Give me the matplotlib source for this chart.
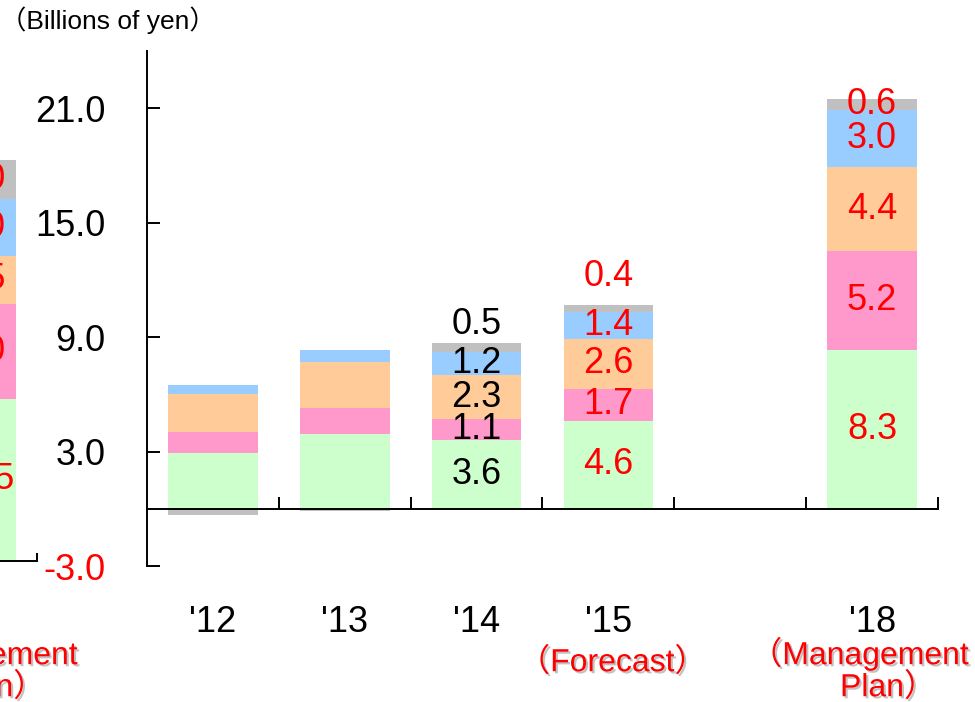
import numpy as np
import matplotlib
matplotlib.use("Agg")
import matplotlib.pyplot as plt
import matplotlib.patheffects as pe
from matplotlib import transforms

plt.rcParams["font.family"] = ["Liberation Sans", "Noto Sans CJK JP"]

# ---------------------------------------------------------------------------
# Data (billions of yen), stacked from the bottom up
# ---------------------------------------------------------------------------
years = ["'12", "'13", "'14", "'15", "'18"]
green = [2.9, 3.9, 3.6, 4.6, 8.3]
pink = [1.1, 1.4, 1.1, 1.7, 5.2]
orange = [2.0, 2.4, 2.3, 2.6, 4.4]
blue = [0.5, 0.6, 1.2, 1.4, 3.0]
gray = [-0.3, -0.1, 0.5, 0.4, 0.6]
show_labels = [False, False, True, True, True]
label_colors = ["black", "black", "black", "red", "red"]

# neighbouring (cropped) chart on the left edge
left_values = [8.5, 5.0, 2.5, 3.0, 2.0]

yticks = [-3, 3, 9, 15, 21]

colors = ["#ccffcc", "#ff99cc", "#ffcc99", "#99ccff", "#c0c0c0"]
FS = 26
NOTE_FS = 23
PX = 131.5  # pixels per category slot
shadow = [pe.withSimplePatchShadow(offset=(1.5, -1.5), shadow_rgbFace="#999999", alpha=0.6)]


def plan_note(axis, xc):
    """Two-line red '(Management Plan)' note under a category."""
    tr = transforms.blended_transform_factory(axis.transData, fig.transFigure)
    axis.text(xc + 97 / PX, 1 - 654 / 702, "（Management", transform=tr, ha="right",
              va="center", fontsize=NOTE_FS, color="red", path_effects=shadow)
    axis.text(xc - 32 / PX, 1 - 688 / 702, "Plan）", transform=tr, ha="left",
              va="center", fontsize=NOTE_FS, color="red", path_effects=shadow)


fig = plt.figure(figsize=(9.75, 7.02), dpi=100)

# ---------------------------------------------------------------------------
# Main chart
# ---------------------------------------------------------------------------
ax = fig.add_axes([147 / 975, 136 / 702, 791 / 975, 515 / 702])
x = np.arange(len(years), dtype=float)
x[-1] += 1  # gap for '16 / '17
width = 0.68

series = np.array([green, pink, orange, blue, gray])
pos_base = np.zeros(len(years))
neg_base = np.zeros(len(years))
for vals, c in zip(series, colors):
    bottoms = np.where(vals >= 0, pos_base, neg_base)
    ax.bar(x, vals, width, bottom=bottoms, color=c, edgecolor="none", zorder=2)
    pos_base += np.where(vals >= 0, vals, 0)
    neg_base += np.where(vals < 0, vals, 0)

# value labels
gray_above = {2: 0.95, 3: 1.5}
for i in range(len(years)):
    if not show_labels[i]:
        continue
    base = 0.0
    for k, vals in enumerate(series):
        v = vals[i]
        yc = base + v / 2
        if k == len(series) - 1 and i in gray_above:
            yc = base + v + gray_above[i]
        ax.text(x[i], yc, f"{v:.1f}", ha="center", va="center",
                fontsize=FS, color=label_colors[i], zorder=3)
        base += v

ax.set_xlim(-0.5, 5.5)
ax.set_ylim(-3, 24)
for s in ["top", "right"]:
    ax.spines[s].set_visible(False)
ax.spines["left"].set_linewidth(1.4)
ax.spines["bottom"].set_linewidth(1.4)
ax.spines["bottom"].set_position(("data", 0))

ax.set_yticks(yticks)
ax.set_yticklabels([f"{t:.1f}" for t in yticks], fontsize=FS)
for lab, t in zip(ax.get_yticklabels(), yticks):
    lab.set_color("red" if t < 0 else "black")
ax.tick_params(axis="y", direction="in", length=9.5, width=1.4, pad=30)

ax.set_xticks(x)
ax.set_xticklabels(years, fontsize=FS)
ax.set_xticks(np.arange(0.5, 6.0, 1.0), minor=True)
ax.tick_params(axis="x", which="major", length=0, pad=69)
ax.tick_params(axis="x", which="minor", direction="in", length=9, width=1.4)

tr = transforms.blended_transform_factory(ax.transData, fig.transFigure)
ax.text(x[3] + 4 / PX, 1 - 663 / 702, "（Forecast）", transform=tr, ha="center",
        va="center", fontsize=NOTE_FS, color="red", path_effects=shadow)
plan_note(ax, x[4])

fig.text(0.0, 1 - 20 / 702, "（Billions of yen）", fontsize=19,
         ha="left", va="center", color="black")

# ---------------------------------------------------------------------------
# Cropped neighbour chart at the left edge
# ---------------------------------------------------------------------------
ax2 = fig.add_axes([-94.5 / 975, 141 / 702, PX / 975, 515 / 702])
base = 0.0
for v, c in zip(left_values, colors):
    ax2.bar(0, v, width, bottom=base, color=c, edgecolor="none")
    ax2.text(0.07 if base > 0 else 0.14, base + v / 2, f"{v:.1f}", ha="center",
             va="center", fontsize=FS, color="red", clip_on=False)
    base += v
ax2.set_xlim(-0.5, 0.5)
ax2.set_ylim(0, 27)
for s in ["top", "right", "left"]:
    ax2.spines[s].set_visible(False)
ax2.spines["bottom"].set_linewidth(1.4)
ax2.set_yticks([])
ax2.set_xticks([])
ax2.set_xticks([0.5], minor=True)
ax2.tick_params(axis="x", which="minor", direction="in", length=6, width=1.4)
plan_note(ax2, 10 / PX)

fig.savefig("out.png", dpi=100)
